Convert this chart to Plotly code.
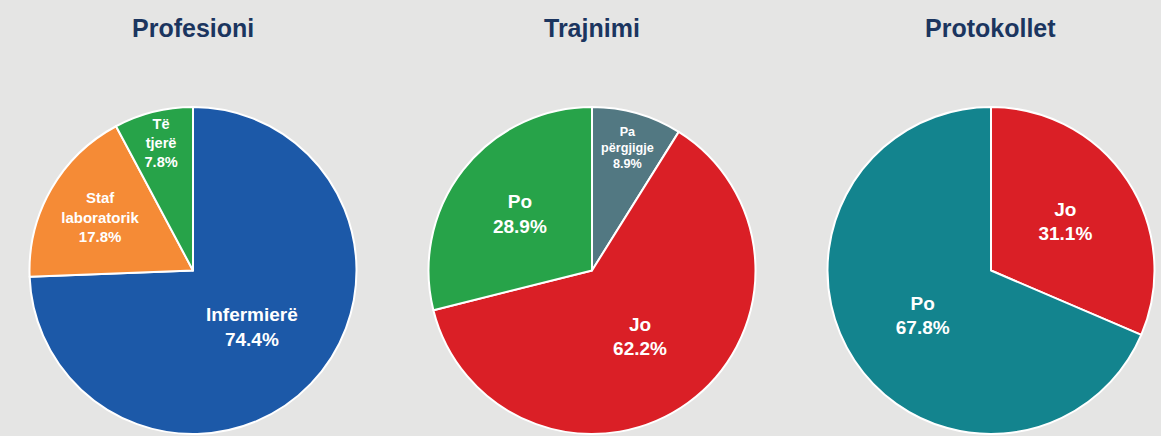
import plotly.graph_objects as go

# Data
prof_labels = ["Infermierë", "Staf<br>laboratorik", "Të<br>tjerë"]
prof_values = [74.4, 17.8, 7.8]
prof_colors = ["#1c59a8", "#f58b36", "#27a349"]

trajn_labels = ["Pa<br>përgjigje", "Jo", "Po"]
trajn_values = [8.9, 62.2, 28.9]
trajn_colors = ["#527882", "#da1f26", "#27a349"]

prot_labels = ["Jo", "Po"]
prot_values = [31.1, 67.8]
prot_colors = ["#da1f26", "#13848e"]

titles = ["Profesioni", "Trajnimi", "Protokollet"]

W, H = 1161, 436
domains_x = [[29 / W, 357 / W], [428 / W, 756 / W], [827 / W, 1155 / W]]
dom_y = [1 - 434 / H, 1 - 107 / H]
FONT = "Liberation Sans, Arial, sans-serif"

fig = go.Figure()
sets = [
    (prof_labels, prof_values, prof_colors, [19, 15, 15]),
    (trajn_labels, trajn_values, trajn_colors, [15, 19, 19]),
    (prot_labels, prot_values, prot_colors, [19, 19]),
]
for i, (lab, val, col, sizes) in enumerate(sets):
    fig.add_trace(go.Pie(
        labels=lab, values=val, sort=False, direction="clockwise", rotation=0,
        marker=dict(colors=col, line=dict(color="white", width=2)),
        texttemplate="<b>%{label}<br>%{value:.1f}%</b>",
        textposition="inside", insidetextorientation="horizontal",
        textfont=dict(family=FONT, color="white", size=sizes),
        domain=dict(x=domains_x[i], y=dom_y),
        showlegend=False, hoverinfo="label+value",
    ))
    fig.add_annotation(
        text="<b>%s</b>" % titles[i], x=sum(domains_x[i]) / 2, y=1 - 28 / H,
        xref="paper", yref="paper", showarrow=False, xanchor="center", yanchor="middle",
        font=dict(family=FONT, size=25, color="#1b355f"),
    )

fig.update_layout(
    width=W, height=H, margin=dict(l=0, r=0, t=0, b=0),
    paper_bgcolor="#e5e5e4", plot_bgcolor="#e5e5e4",
)
fig.write_html(
    "out.html",
    config={"displayModeBar": False},
    post_script="document.body.style.margin='0';document.body.style.background='#e5e5e4';",
)
